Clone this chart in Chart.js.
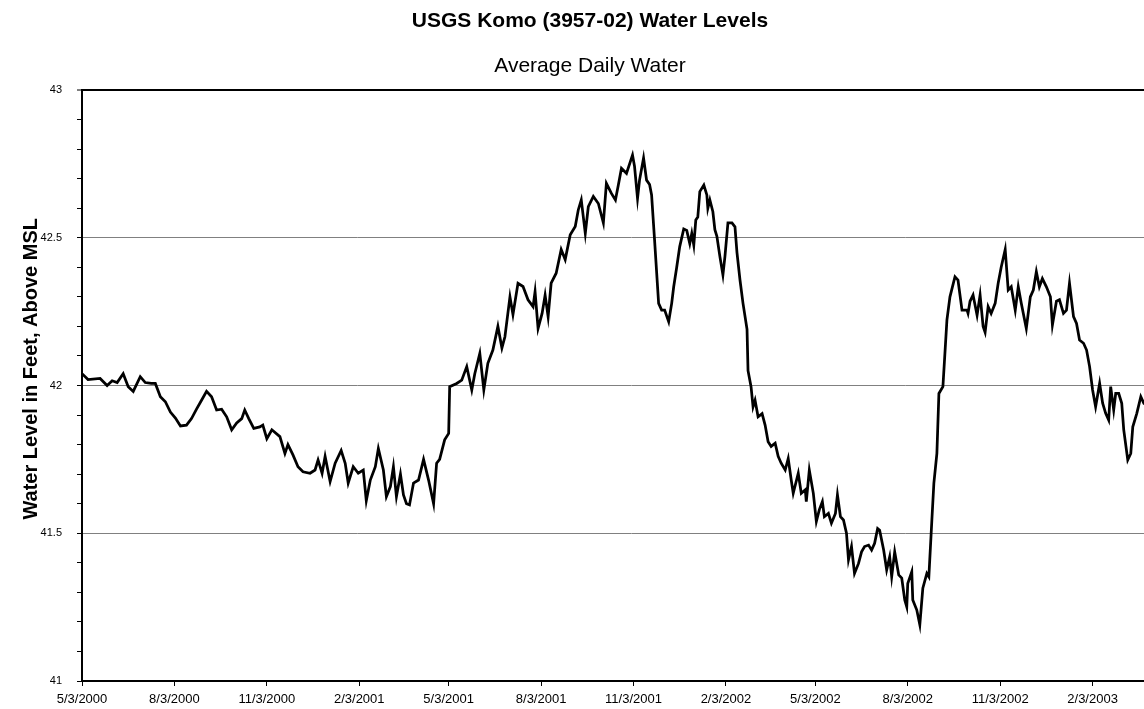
<!DOCTYPE html>
<html>
<head>
<meta charset="utf-8">
<title>USGS Komo (3957-02) Water Levels</title>
<script src="https://cdn.jsdelivr.net/npm/chart.js@4.4.1/dist/chart.umd.min.js"></script>
<style>
  html, body { margin: 0; padding: 0; background: #fff; overflow: hidden; }
  #wrap { width: 1144px; height: 709px; overflow: hidden; }
</style>
</head>
<body>
<div id="wrap">
  <canvas id="nivelChart" width="1192" height="709"></canvas>
</div>
<script>
// Etiquetas del eje X (fechas cada 3 meses)
const tickLabels = ['5/3/2000', '8/3/2000', '11/3/2000', '2/3/2001', '5/3/2001', '8/3/2001',
    '11/3/2001', '2/3/2002', '5/3/2002', '8/3/2002', '11/3/2002', '2/3/2003'];

// Días desde 5/3/2000 de cada lectura
const sampleDays = [
    0, 6, 18, 25, 30, 35, 41, 46, 51, 58, 63, 69, 73, 78, 83, 88, 93, 98, 104, 109, 114, 119, 124, 129, 134, 139, 144, 149, 154, 159, 162, 166, 171, 177, 180, 184,
    189, 197, 202, 205, 210, 215, 220, 227, 232, 235, 239, 242, 247, 252, 258, 262, 265, 270, 275, 280, 283, 287, 292, 295, 300, 303, 307, 310, 313, 317, 320, 323, 326, 330, 335, 340, 345, 350, 353, 356, 361, 365, 366,
    373, 378, 383, 388, 391, 396, 400, 404, 409, 414, 418, 421, 426, 429, 434, 439, 444, 449, 451, 454, 458, 461, 464, 467, 472, 477, 481, 486, 491, 494, 497, 501, 504, 509, 514, 519, 522, 527, 531, 534, 537, 542, 548,
    550, 553, 555, 559, 562, 565, 567, 570, 574, 577, 580, 584, 587, 589, 592, 595, 599, 602, 605, 607, 609, 611, 613, 615, 619, 622, 623, 625, 628, 630, 632, 635, 638, 640, 643, 647, 650, 652, 655, 658, 662, 663, 666,
    668, 670, 673, 677, 680, 683, 686, 690, 693, 696, 700, 703, 706, 708, 713, 716, 720, 721, 724, 728, 731, 734, 737, 739, 743, 746, 750, 752, 755, 758, 761, 763, 766, 769, 773, 776, 779, 783, 786, 789, 792, 794, 798, 801, 804, 806, 809, 813, 816, 819, 821, 822, 826, 827, 831, 834, 837, 841, 843, 846, 848, 851, 853,
    857, 861, 864, 869, 872, 876, 881, 882, 884, 887, 891, 894, 897, 899, 902, 905, 909, 912, 915, 919, 922, 925, 929, 932, 935, 940, 944, 947, 950, 953, 956, 960, 964, 966, 970, 973, 977, 980, 983, 987, 990, 993, 997, 1000, 1003, 1006, 1009, 1013, 1016, 1019, 1022, 1024, 1027, 1029, 1032, 1035, 1037, 1041, 1044, 1046, 1050, 1054, 1057, 1061
];

// Nivel de agua (pies sobre MSL)
const waterLevels = [
    42.04, 42.02, 42.024, 42.00, 42.016, 42.01, 42.04, 41.996, 41.98, 42.03, 42.01, 42.007, 42.007, 41.962, 41.945, 41.91, 41.89, 41.863, 41.866, 41.888, 41.92, 41.95, 41.98, 41.962, 41.917, 41.92, 41.894, 41.85, 41.873, 41.888, 41.917, 41.888, 41.855, 41.86, 41.866, 41.82,
    41.85, 41.827, 41.77, 41.80, 41.765, 41.725, 41.708, 41.703, 41.714, 41.748, 41.703, 41.76, 41.675, 41.737, 41.78, 41.737, 41.67, 41.725, 41.703, 41.714, 41.61, 41.68, 41.725, 41.787, 41.714, 41.624, 41.658, 41.725, 41.624, 41.70, 41.63, 41.60, 41.596, 41.67, 41.68, 41.75, 41.68, 41.60, 41.737, 41.75, 41.816, 41.838, 41.996,
    42.007, 42.018, 42.064, 41.985, 42.04, 42.109, 41.985, 42.075, 42.12, 42.2, 42.127, 42.165, 42.30, 42.24, 42.346, 42.335, 42.29, 42.267, 42.318, 42.193, 42.244, 42.306, 42.233, 42.346, 42.38, 42.46, 42.426, 42.51, 42.538, 42.594, 42.628, 42.515, 42.605, 42.64, 42.616, 42.55, 42.684, 42.65, 42.628, 42.68, 42.735, 42.718, 42.78,
    42.742, 42.633, 42.695, 42.77, 42.695, 42.68, 42.645, 42.49, 42.278, 42.255, 42.255, 42.216, 42.278, 42.334, 42.40, 42.47, 42.53, 42.525, 42.48, 42.515, 42.475, 42.56, 42.57, 42.656, 42.678, 42.645, 42.60, 42.628, 42.588, 42.527, 42.505, 42.436, 42.374, 42.436, 42.55, 42.55, 42.537, 42.45, 42.357, 42.278, 42.19, 42.05, 41.996,
    41.928, 41.95, 41.894, 41.905, 41.866, 41.81, 41.794, 41.805, 41.76, 41.737, 41.714, 41.753, 41.68, 41.635, 41.703, 41.635, 41.647, 41.607, 41.714, 41.635, 41.54, 41.58, 41.607, 41.556, 41.567, 41.534, 41.567, 41.63, 41.556, 41.545, 41.50, 41.41, 41.455, 41.364, 41.398, 41.437, 41.455, 41.46, 41.443, 41.466, 41.516, 41.51, 41.443, 41.376, 41.42, 41.353, 41.437, 41.359, 41.348, 41.274, 41.251, 41.33, 41.37, 41.274, 41.24, 41.19, 41.314, 41.364, 41.353, 41.545, 41.67, 41.77, 41.973,
    41.996, 42.222, 42.30, 42.368, 42.357, 42.255, 42.255, 42.244, 42.285, 42.306, 42.238, 42.306, 42.20, 42.18, 42.267, 42.244, 42.278, 42.346, 42.40, 42.46, 42.323, 42.334, 42.255, 42.334, 42.278, 42.193, 42.30, 42.323, 42.385, 42.334, 42.362, 42.334, 42.30, 42.205, 42.285, 42.29, 42.244, 42.255, 42.346, 42.233, 42.21, 42.154, 42.143, 42.12, 42.064, 41.985, 41.928, 42.007, 41.94, 41.906, 41.883, 41.996, 41.917, 41.973, 41.973, 41.94, 41.85, 41.748, 41.77, 41.86, 41.906, 41.962, 41.94, 41.93
];

// Convertir 'm/d/aaaa' a días desde la primera fecha
function diasDesdeInicio(etiqueta) {
    const [m, d, a] = etiqueta.split('/').map(Number);
    const inicio = Date.UTC(2000, 4, 3);
    return Math.round((Date.UTC(a, m - 1, d) - inicio) / 86400000);
}

const tickDays = tickLabels.map(diasDesdeInicio);
const puntos = sampleDays.map((d, i) => ({ x: d, y: waterLevels[i] }));

Chart.defaults.font.family = "'Liberation Sans', Arial, sans-serif";
Chart.defaults.color = '#000';

const ctx = document.getElementById('nivelChart').getContext('2d');
const chart = new Chart(ctx, {
    type: 'line',
    data: {
        datasets: [{
            label: 'Average Daily Water',
            data: puntos,
            borderColor: '#000',
            borderWidth: 2.75,
            pointRadius: 0,
            tension: 0,
            fill: false
        }]
    },
    options: {
        responsive: false,
        animation: false,
        devicePixelRatio: 1,
        layout: { padding: { left: 0, right: 12, top: 0, bottom: 0 } },
        plugins: {
            legend: { display: false },
            tooltip: { enabled: false },
            title: {
                display: true,
                text: 'USGS Komo (3957-02) Water Levels',
                font: { size: 21, weight: 'bold' },
                color: '#000',
                padding: { top: 9, bottom: 0 }
            },
            subtitle: {
                display: true,
                text: 'Average Daily Water',
                font: { size: 21, weight: 'normal' },
                color: '#000',
                padding: { top: 19.2, bottom: 11.4 }
            }
        },
        scales: {
            x: {
                type: 'linear',
                min: 0,
                max: 1093,
                afterBuildTicks: (scale) => {
                    scale.ticks = tickDays.map(v => ({ value: v }));
                },
                afterFit: (scale) => { scale.height = 28; },
                ticks: {
                    autoSkip: false,
                    maxRotation: 0,
                    padding: 6,
                    font: { size: 13 },
                    callback: (value) => {
                        const i = tickDays.indexOf(value);
                        return i >= 0 ? tickLabels[i] : '';
                    }
                },
                grid: {
                    drawOnChartArea: false,
                    drawTicks: true,
                    tickLength: 5,
                    tickColor: '#000',
                    tickWidth: 1
                },
                border: { color: '#000', width: 2 }
            },
            y: {
                min: 41,
                max: 43,
                afterFit: (scale) => { scale.width = 82; },
                ticks: {
                    stepSize: 0.1,
                    autoSkip: false,
                    padding: 15,
                    font: { size: 11 },
                    callback: (value) => {
                        const r = Math.round(value * 10);
                        return r % 5 === 0 ? String(r / 10) : '';
                    }
                },
                grid: {
                    color: (c) => {
                        const r = Math.round(c.tick.value * 10);
                        if (r === 430) return '#000';
                        if (r % 5 === 0 && r !== 410) return '#808080';
                        return 'rgba(0,0,0,0)';
                    },
                    lineWidth: (c) => Math.round(c.tick.value * 10) === 430 ? 2 : 1,
                    tickLength: 5,
                    tickColor: '#000',
                    tickWidth: 1
                },
                border: { color: '#000', width: 2 },
                title: {
                    display: true,
                    // espacios iniciales para subir el texto como en el original
                    text: '      Water Level in Feet, Above MSL',
                    font: { size: 20, weight: 'bold' },
                    color: '#000',
                    padding: { top: 19, bottom: 0 }
                }
            }
        }
    }
});
</script>
</body>
</html>
